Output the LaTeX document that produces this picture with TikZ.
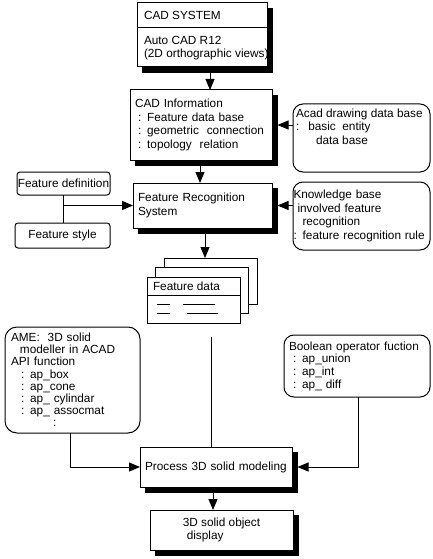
\documentclass[tikz,border=0pt]{standalone}
\usepackage{fontspec}
\setmainfont{Liberation Sans}
\usepackage{tikz}
\usetikzlibrary{arrows.meta}
\tikzstyle{box}=[draw, line width=1pt, fill=white, inner sep=0, outer sep=0]
\tikzstyle{sbox}=[box]
\tikzstyle{darkbox}=[draw=black, fill=black, line width=1pt, inner sep=0, outer sep=0]
\tikzstyle{heavyedge}=[draw=black, line width=5.5pt, line cap=butt]
\tikzstyle{rbox}=[box, rounded corners=10pt]
\tikzstyle{txt}=[inner sep=0, outer sep=0, align=left]
\tikzstyle{link}=[line width=0.9pt]
\tikzstyle{flow}=[link, -{Triangle[length=11pt, width=9pt]}]
\tikzstyle{flowchart}=[x=1pt, y=-1pt,
                       % Text size of the scanned chart.
                       every node/.style={font=\fontsize{11.8}{13.5}\selectfont}]

\begin{document}
\begin{tikzpicture}[flowchart]
    \useasboundingbox (0,0) rectangle (432,559);
    % Black blocks behind the main boxes
    \node[darkbox, minimum width=130pt, minimum height=64pt] (cadsysdark) at (207.5,40.5) {};
    \node[darkbox, minimum width=142pt, minimum height=70pt] (cadinfodark) at (206.5,130.5) {};
    \node[darkbox, minimum width=139pt, minimum height=45pt] (featrecdark) at (208,211) {};
    \node[darkbox, minimum width=152pt, minimum height=40pt] (processdark) at (221.5,472.5) {};
    \node[darkbox, minimum width=143pt, minimum height=40pt] (soliddark) at (227,535.5) {};
    % Top of the chain
    \node[sbox, minimum width=130pt, minimum height=64pt] (cadsys) at (202,35) {};
    \draw[link] ([yshift=-24pt]cadsys.north west) -- ([yshift=-24pt]cadsys.north east);
    \node[txt, anchor=west] (cadtitle) at (144,15) {CAD SYSTEM};
    \node[txt, anchor=west] (cadbody) at (144,48) {Auto CAD R12\\(2D orthographic views)};
    \node[sbox, minimum width=142pt, minimum height=70pt, text width=132pt, align=left] (cadinfo) at (201,125)
        {CAD Information\\\hspace*{3pt}: Feature data base\\\hspace*{3pt}: geometric\ \ connection\\\hspace*{3pt}: topology\ \ relation};
    \node[rbox, minimum width=137pt, minimum height=68pt] (acad) at (361.5,138) {};
    \node[txt, anchor=west] (acadtxt) at (296,126.5) {Acad drawing data base\\:\hspace{9pt}basic\ \ entity\\\hspace*{20pt}data base};
    \node[sbox, minimum width=139pt, minimum height=45pt, text width=129pt, align=left] (featrec) at (202.5,205.5)
        {Feature Recognition\\System};
    \node[rbox, minimum width=137pt, minimum height=68pt, text width=136pt, align=left] (knowledge) at (361.5,216)
        {Knowledge base\\\hspace*{4pt}involved feature\\\hspace*{9pt}recognition\\: feature recognition rule};
    \node[rbox, rounded corners=3pt, minimum width=93pt, minimum height=23pt] (featdef) at (63.5,183.5) {Feature definition};
    \node[rbox, rounded corners=3pt, minimum width=95pt, minimum height=25pt] (featsty) at (62.5,235.5) {Feature style};
    % Stack of data sheets
    \node[box, minimum width=93pt, minimum height=46pt] (databack) at (210.5,281) {};
    \node[box, minimum width=93pt, minimum height=46pt] (datamid) at (202,290.5) {};
    \node[box, minimum width=93pt, minimum height=46pt] (datafront) at (193.5,300) {};
    \draw[link] ([yshift=-18pt]datafront.north west) -- ([yshift=-18pt]datafront.north east);
    \node[txt, anchor=west] (datatitle) at (153,286) {Feature data};
    \draw[link] ([shift={(10pt,-27pt)}]datafront.north west) -- +(13,0);
    \draw[link] ([shift={(36pt,-27pt)}]datafront.north west) -- +(32,0);
    \draw[link] ([shift={(10pt,-36pt)}]datafront.north west) -- +(13,0);
    \draw[link] ([shift={(40pt,-36pt)}]datafront.north west) -- +(31,0);
    % Solid modelling part
    \node[rbox, rounded corners=12pt, minimum width=135pt, minimum height=106pt, text width=123pt, align=left,
          font=\fontsize{11.8}{12.2}\selectfont] (ame) at (72.5,380)
        {AME:\ \ 3D solid\\\hspace*{9pt}modeller in ACAD\\API function\\\hspace*{10pt}: ap\_box\\\hspace*{10pt}: ap\_cone\\\hspace*{10pt}: ap\_ cylindar\\\hspace*{10pt}: ap\_ assocmat\\\hspace*{42pt}:};
    \node[rbox, minimum width=146pt, minimum height=62pt, text width=136pt, align=left,
          font=\fontsize{11.8}{12.7}\selectfont] (boolean) at (357,366)
        {Boolean operator fuction\\\hspace*{4pt}: ap\_union\\\hspace*{4pt}: ap\_int\\\hspace*{4pt}: ap\_ diff};
    \node[sbox, minimum width=152pt, minimum height=40pt, text width=142pt, align=left] (process) at (216,467)
        {Process 3D solid modeling};
    \node[sbox, minimum width=143pt, minimum height=40pt, align=left] (solid) at (221.5,530)
        {3D solid object\\\hspace*{4pt}display};
    % Heavy edges along the right and lower sides
    \foreach \bx in {cadsys,cadinfo,featrec,process,solid}{
        \draw[heavyedge] ([xshift=3pt,yshift=-5pt]\bx.north east) -- ([xshift=3pt,yshift=-3pt]\bx.south east)
            -- ([xshift=5pt,yshift=-3pt]\bx.south west);
    }
    % Connectors
    \coordinate (colA) at (210,0);
    \coordinate (colB) at (200,0);
    \coordinate (colC) at (205,0);
    \coordinate (colD) at (213,0);
    \coordinate (amedrop) at (70,0);
    \coordinate (booldrop) at (358,0);
    \coordinate (datatail) at (211,337);
    \draw[flow] (cadsysdark.south -| colA) -- (cadinfo.north -| colA);
    \draw[flow] (cadinfodark.south -| colB) -- (featrec.north -| colB);
    \draw[flow] (acad.west |- cadinfo.east) -- (cadinfodark.east |- cadinfo.east);
    \draw[flow] (knowledge.west |- featrec.east) -- (featrecdark.east |- featrec.east);
    \draw[link] (featdef.south) -- (featdef.south |- featsty.north);
    \coordinate (defjoin) at (featdef.south |- featrec.west);
    \draw[flow] (defjoin) -- (featrec.west);
    \draw[flow] (featrecdark.south -| colC) -- (databack.north -| colC);
    \draw[link] (datatail) -- (datatail |- process.north);
    \draw[flow] (ame.south -| amedrop) |- (process.west);
    \draw[flow] (boolean.south -| booldrop) |- (processdark.east |- process.east);
    \draw[flow] (processdark.south -| colD) -- (solid.north -| colD);
\end{tikzpicture}
\end{document}
